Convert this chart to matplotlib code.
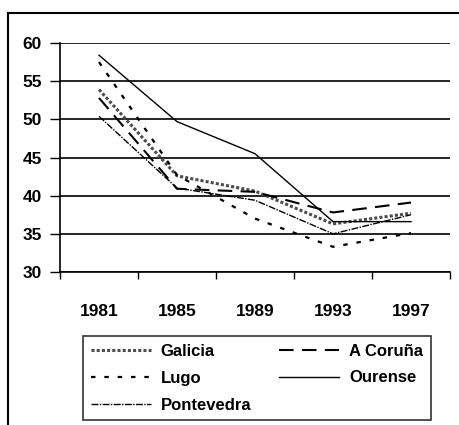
import matplotlib.pyplot as plt
import matplotlib.lines as mlines
import numpy as np

plt.rcParams['font.family'] = ['Liberation Sans', 'DejaVu Sans']
plt.rcParams['font.weight'] = 'bold'

anios = ['1981', '1985', '1989', '1993', '1997']
galicia = [53.9, 42.6, 40.6, 36.3, 37.7]
coruna = [52.8, 40.9, 40.5, 37.8, 39.1]
lugo = [57.5, 42.7, 37.0, 33.3, 35.1]
ourense = [58.4, 49.7, 45.5, 36.6, 36.6]
pontevedra = [50.4, 41.0, 39.4, 35.0, 37.5]

W, H = 459, 425
fig = plt.figure(figsize=(W / 100, H / 100), dpi=100)
ax = fig.add_axes([60 / W, (H - 272) / H, (450 - 60) / W, (272 - 43) / H])

x = np.arange(len(anios))
l_gal, = ax.plot(x, galicia, color='0.3', lw=2.2, ls=(0, (1, 0.7)), label='Galicia')
l_cor, = ax.plot(x, coruna, color='black', lw=1.5, ls=(0, (7, 4)), label='A Coruña')
l_lug, = ax.plot(x, lugo, color='black', lw=1.6, ls=(0, (2, 4)), label='Lugo')
l_our, = ax.plot(x, ourense, color='black', lw=1.0, ls='-', label='Ourense')
l_pon, = ax.plot(x, pontevedra, color='black', lw=1.0, ls=(0, (5, 1, 1, 1)), label='Pontevedra')

ax.set_xlim(-0.5, 4.5)
ax.set_ylim(30, 60)
ax.set_yticks([30, 35, 40, 45, 50, 55, 60])
ax.set_xticks(x)
ax.set_xticklabels(anios)
ax.set_xticks(np.arange(-0.5, 5, 1), minor=True)
ax.tick_params(axis='x', which='major', length=0, pad=23, labelsize=12.5)
ax.tick_params(axis='x', which='minor', length=5, width=1, direction='out')
ax.tick_params(axis='y', length=7, width=1, direction='out', pad=6, labelsize=12.5)
ax.yaxis.grid(True, color='black', lw=1.2)
ax.set_axisbelow(True)
for s in ['top', 'right']:
    ax.spines[s].set_visible(False)
for s in ['left', 'bottom']:
    ax.spines[s].set_linewidth(1.2)

# marco exterior (solo arriba e izquierda)
fig.add_artist(mlines.Line2D([8 / W, 1], [1 - 13 / H, 1 - 13 / H], color='black', lw=1.5,
                             transform=fig.transFigure))
fig.add_artist(mlines.Line2D([8 / W, 8 / W], [0, 1 - 13 / H], color='black', lw=1.5,
                             transform=fig.transFigure))

leg = fig.legend([l_gal, l_lug, l_pon, l_cor, l_our],
                 ['Galicia', 'Lugo', 'Pontevedra', 'A Coruña', 'Ourense'],
                 ncol=2, loc='upper left', bbox_to_anchor=(83 / W, 1 - 336 / H),
                 fontsize=12, handlelength=3.6, handletextpad=0.6,
                 columnspacing=1.7, labelspacing=0.72, borderpad=0.45,
                 borderaxespad=0, fancybox=False, frameon=True, edgecolor='black')
leg.get_frame().set_linewidth(1.2)

fig.savefig('out.png', dpi=100)
